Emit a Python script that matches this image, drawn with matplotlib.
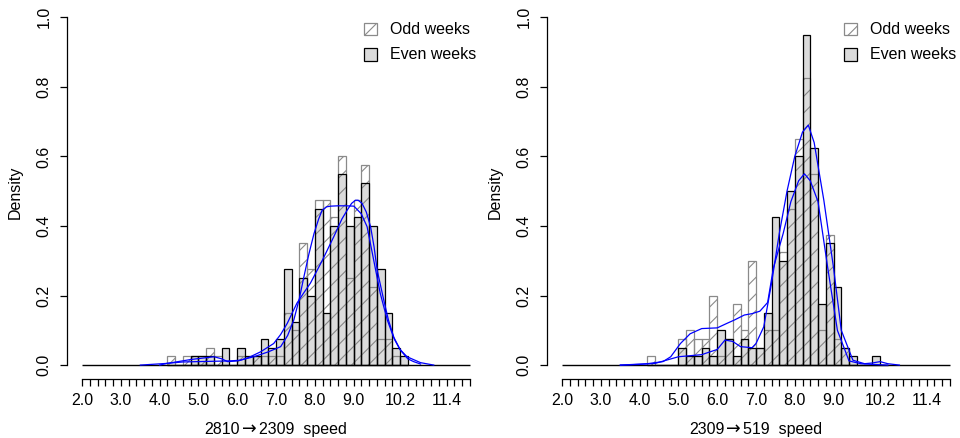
import numpy as np
import matplotlib
matplotlib.use("Agg")
import matplotlib.pyplot as plt
from matplotlib.patches import Rectangle
from matplotlib.offsetbox import TextArea, HPacker, AnnotationBbox

plt.rcParams['font.family'] = ['Liberation Sans', 'DejaVu Sans']
plt.rcParams['hatch.linewidth'] = 0.8

# ---------------- data ----------------
bin_left = [4.2, 4.4, 4.6, 4.8, 5.0, 5.2, 5.4, 5.6, 5.8, 6.0, 6.2, 6.4, 6.6, 6.8, 7.0, 7.2,
            7.4, 7.6, 7.8, 8.0, 8.2, 8.4, 8.6, 8.8, 9.0, 9.2, 9.4, 9.6, 9.8, 10.0, 10.2]
bin_width = 0.2

# panel 1: 2810->2309
p1_odd = [0.025, 0, 0.025, 0.025, 0.025, 0.05, 0.025, 0, 0, 0.025, 0, 0.025, 0.025, 0.025, 0.025, 0.15,
          0.1, 0.35, 0.275, 0.475, 0.475, 0.425, 0.6, 0.25, 0.475, 0.575, 0.225, 0.075, 0.075, 0.025, 0]
p1_even = [0, 0, 0, 0.025, 0.025, 0.025, 0, 0.05, 0, 0.05, 0.025, 0.025, 0.075, 0.05, 0.075, 0.275,
           0.125, 0.25, 0.2, 0.45, 0.15, 0.4, 0.55, 0.4, 0.425, 0.525, 0.4, 0.275, 0.15, 0.05, 0.025]
p1_dens_a_x = [3.5, 4.2, 4.8, 5.1, 5.4, 5.6, 5.75, 6.0, 6.43, 6.8, 7.12, 7.3, 7.46, 7.6, 7.72, 7.85,
               7.98, 8.1, 8.19, 8.3, 8.41, 8.6, 8.8, 9.01, 9.2, 9.35, 9.52, 9.69, 9.87, 10.05,
               10.21, 10.4, 10.55, 10.73]
p1_dens_a_y = [0, 0.005, 0.016, 0.02, 0.024, 0.018, 0.01, 0.012, 0.024, 0.038, 0.053, 0.085, 0.13,
               0.19, 0.254, 0.32, 0.378, 0.42, 0.445, 0.455, 0.457, 0.458, 0.458, 0.457, 0.435,
               0.398, 0.302, 0.206, 0.13, 0.075, 0.043, 0.018, 0.01, 0.003]
p1_dens_b_x = [4.0, 4.19, 4.6, 5.0, 5.4, 5.8, 6.08, 6.3, 6.6, 6.94, 7.12, 7.29, 7.54, 7.7, 7.89,
               8.19, 8.49, 8.7, 8.84, 8.95, 9.05, 9.12, 9.22, 9.33, 9.44, 9.53, 9.61, 9.78, 9.9,
               10.04, 10.2, 10.38, 10.73, 11.07]
p1_dens_b_y = [0, 0.005, 0.009, 0.01, 0.011, 0.012, 0.014, 0.022, 0.038, 0.062, 0.088, 0.12, 0.178,
               0.205, 0.236, 0.3, 0.369, 0.42, 0.446, 0.465, 0.474, 0.474, 0.465, 0.44, 0.398,
               0.34, 0.273, 0.187, 0.13, 0.08, 0.045, 0.024, 0.007, 0]

# panel 2: 2309->519
p2_odd = [0.025, 0, 0, 0, 0.075, 0.1, 0.075, 0.075, 0.2, 0.025, 0.075, 0.175, 0.1, 0.3, 0.05, 0.1,
          0.1, 0.325, 0.45, 0.65, 0.825, 0.55, 0.1, 0.375, 0.075, 0.05, 0, 0, 0, 0, 0]
p2_even = [0, 0, 0, 0, 0.05, 0.025, 0.025, 0.05, 0.025, 0.1, 0.075, 0.025, 0.075, 0.05, 0.05, 0.15,
           0.425, 0.3, 0.5, 0.6, 0.95, 0.625, 0.175, 0.35, 0.225, 0.05, 0.025, 0, 0, 0.025, 0]
p2_dens_a_x = [3.5, 4.0, 4.4, 5.0, 5.6, 6.0, 6.2, 6.4, 6.6, 6.9, 7.0, 7.2, 7.4, 7.6, 7.8, 8.0, 8.2,
               8.35, 8.5, 8.75, 9.0, 9.2, 9.5, 9.8, 10.0, 10.2, 10.4, 10.7]
p2_dens_a_y = [0, 0.002, 0.005, 0.024, 0.03, 0.045, 0.072, 0.068, 0.053, 0.05, 0.062, 0.11, 0.235,
               0.378, 0.5, 0.6, 0.67, 0.69, 0.64, 0.474, 0.28, 0.1, 0.014, 0.004, 0.006, 0.01, 0.004, 0]
p2_dens_b_x = [3.5, 4.2, 4.6, 4.8, 5.05, 5.3, 5.6, 6.0, 6.25, 6.45, 6.7, 6.9, 7.1, 7.3, 7.45, 7.7,
               7.9, 8.1, 8.25, 8.4, 8.6, 8.85, 9.1, 9.4, 9.7, 10.0, 10.4]
p2_dens_b_y = [0, 0.004, 0.01, 0.024, 0.062, 0.09, 0.105, 0.107, 0.12, 0.13, 0.144, 0.148, 0.155,
               0.18, 0.28, 0.378, 0.47, 0.53, 0.55, 0.53, 0.47, 0.28, 0.1, 0.012, 0.004, 0.002, 0]

panels = [
    dict(odd=p1_odd, even=p1_even, da=(p1_dens_a_x, p1_dens_a_y), db=(p1_dens_b_x, p1_dens_b_y),
         route=("2810", "2309")),
    dict(odd=p2_odd, even=p2_even, da=(p2_dens_a_x, p2_dens_a_y), db=(p2_dens_b_x, p2_dens_b_y),
         route=("2309", "519")),
]

xtick_pos = [round(2.0 + 0.2 * i, 1) for i in range(51)]
xtick_labeled = [2.0, 3.0, 4.0, 5.0, 6.0, 7.0, 8.0, 9.0, 10.2, 11.4]
ytick_pos = [0.0, 0.2, 0.4, 0.6, 0.8, 1.0]
legend_labels = ["Odd weeks", "Even weeks"]

# ---------------- figure ----------------
W, H = 960, 438
fig = plt.figure(figsize=(W / 100, H / 100), dpi=100)
FS = 11.5

px_per_unit = 38.76
ax_w_px = 413.3
odd_edge = '#8a8a8a'
even_face = (0.5, 0.5, 0.5, 0.28)

for k, p in enumerate(panels):
    x0 = 66.7 + 480 * k
    ax = fig.add_axes([x0 / W, (H - 379) / H, ax_w_px / W, (379 - 3.4) / H])
    ax.set_xlim(1.6, 1.6 + ax_w_px / px_per_unit)
    ax.set_ylim(-0.04, 1.04)
    ax.patch.set_visible(False)

    ax.bar(bin_left, p['odd'], width=bin_width, align='edge', facecolor='none',
           edgecolor=odd_edge, hatch='//', linewidth=0.9, zorder=2)
    ax.bar(bin_left, p['even'], width=bin_width, align='edge', facecolor=even_face,
           edgecolor='black', linewidth=0.9, zorder=3)
    ax.hlines(0, 2.0, 12.0, color='black', linewidth=1.0, zorder=4)
    ax.plot(*p['da'], color='#0000ff', linewidth=0.9, zorder=5)
    ax.plot(*p['db'], color='#0000ff', linewidth=0.9, zorder=5)

    for s in ['top', 'right']:
        ax.spines[s].set_visible(False)
    ax.spines['left'].set_bounds(0, 1)
    ax.spines['bottom'].set_bounds(2, 12)
    ax.spines['left'].set_linewidth(0.9)
    ax.spines['bottom'].set_linewidth(0.9)

    ax.set_xticks(xtick_pos)
    ax.set_xticklabels([("%.1f" % v) if v in xtick_labeled else "" for v in xtick_pos], fontsize=FS)
    ax.set_yticks(ytick_pos)
    ax.set_yticklabels(["%.1f" % v for v in ytick_pos], fontsize=FS, rotation=90, va='center')
    ax.tick_params(axis='both', direction='out', length=5.2, width=0.9, color='black')
    ax.tick_params(axis='x', pad=5)
    ax.tick_params(axis='y', pad=5.5)

    fig.text((15 + 480 * k) / W, 1 - 192 / H, "Density", rotation=90,
             ha='center', va='center', fontsize=FS)

    # x label with a proper long arrow glyph
    parts = [TextArea(p['route'][0], textprops=dict(fontsize=FS, family='Liberation Sans')),
             TextArea("\u2192", textprops=dict(fontsize=FS * 1.1, family='DejaVu Sans')),
             TextArea(p['route'][1] + "  speed", textprops=dict(fontsize=FS, family='Liberation Sans'))]
    pack = HPacker(children=parts, pad=0, sep=1.5, align='baseline')
    ab = AnnotationBbox(pack, (81.7 + 480 * k + 5 * px_per_unit, H - 429), xycoords='figure pixels',
                        frameon=False, box_alignment=(0.5, 0.5), pad=0)
    fig.add_artist(ab)

    # legend (R style fill boxes)
    bx = 364 + 480 * k
    for i, lab in enumerate(legend_labels):
        top = 22.7 + 25.3 * i
        if i == 0:
            r = Rectangle((bx / W, 1 - (top + 12.5) / H), 12.5 / W, 12.5 / H, transform=fig.transFigure,
                          facecolor='none', edgecolor=odd_edge, hatch='//', linewidth=0.9)
        else:
            r = Rectangle((bx / W, 1 - (top + 12.5) / H), 12.5 / W, 12.5 / H, transform=fig.transFigure,
                          facecolor=even_face, edgecolor='black', linewidth=0.9)
        fig.add_artist(r)
        fig.text((bx + 26.5) / W, 1 - (top + 6.5) / H, lab, ha='left', va='center', fontsize=FS)

fig.savefig("out.png", dpi=100)
